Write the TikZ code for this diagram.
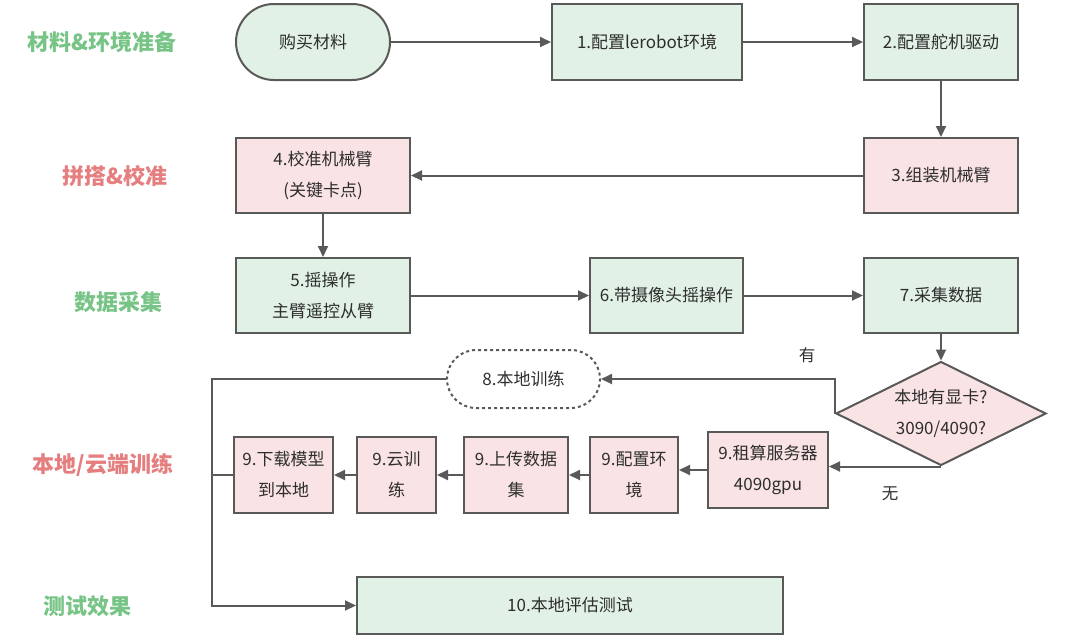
\documentclass[tikz,border=0pt]{standalone}
\usepackage{fontspec}
\newfontfamily\cjk{Noto Sans CJK SC}
\usetikzlibrary{shapes.geometric,arrows.meta}
\definecolor{lgreen}{HTML}{E1F1E5}
\definecolor{lpink}{HTML}{F9E3E4}
\definecolor{edgec}{HTML}{595959}
\definecolor{tgreen}{HTML}{77C486}
\definecolor{tred}{HTML}{E57E7E}
\definecolor{txt}{HTML}{2E2E2E}
\begin{document}
\begin{tikzpicture}[x=1pt,y=-1pt,
  box/.style={draw=edgec,line width=2pt,inner sep=0pt,align=center,text=txt,
    font=\cjk\fontsize{17}{31}\selectfont},
  gbox/.style={box,fill=lgreen},
  pbox/.style={box,fill=lpink},
  lane/.style={font=\cjk\bfseries\fontsize{22}{24}\selectfont},
  lbl/.style={font=\cjk\fontsize{16.5}{18}\selectfont,text=txt},
  conn/.style={draw=edgec,line width=2pt,-{Triangle[length=11pt,width=10pt]}},
  plain/.style={draw=edgec,line width=2pt},
]
\useasboundingbox (0,0) rectangle (1074,643);

% lane labels
\node[lane,text=tgreen] (l1) at (102,42) {材料\&环境准备};
\node[lane,text=tred]   (l2) at (115,176) {拼搭\&校准};
\node[lane,text=tgreen] (l3) at (118,302) {数据采集};
\node[lane,text=tred]   (l4) at (103,465) {本地/云端训练};
\node[lane,text=tgreen] (l5) at (87,606) {测试效果};

% row 1
\node[gbox,rounded corners=38pt,minimum width=154pt,minimum height=76pt] (s) at (313,42) {购买材料};
\node[gbox,minimum width=190pt,minimum height=76pt] (b1) at (647,42) {1.配置lerobot环境};
\node[gbox,minimum width=154pt,minimum height=76pt] (b2) at (941,42) {2.配置舵机驱动};

% row 2
\node[pbox,minimum width=154pt,minimum height=75pt] (b3) at (941,175.5) {3.组装机械臂};
\node[pbox,minimum width=174pt,minimum height=75pt] (b4) at (323,175.5) {4.校准机械臂\\(关键卡点)};

% row 3
\node[gbox,minimum width=174pt,minimum height=75pt] (b5) at (323,295.5) {5.摇操作\\主臂遥控从臂};
\node[gbox,minimum width=153pt,minimum height=75pt] (b6) at (666.5,295.5) {6.带摄像头摇操作};
\node[gbox,minimum width=154pt,minimum height=75pt] (b7) at (941,295.5) {7.采集数据};

% decision and local training
\node[box,fill=white,dashed,rounded corners=29pt,minimum width=153pt,minimum height=58pt] (b8) at (523.5,379) {8.本地训练};
\node[pbox,diamond,shape aspect=2,minimum width=210pt,minimum height=104pt] (d) at (941,413.5) {本地有显卡?\\3090/4090?};

% row 4
\node[pbox,minimum width=120pt,minimum height=76pt] (r1) at (768,470) {9.租算服务器\\4090gpu};
\node[pbox,minimum width=88pt,minimum height=76pt] (r2) at (634,475) {9.配置环\\境};
\node[pbox,minimum width=104pt,minimum height=76pt] (r3) at (516,475) {9.上传数据\\集};
\node[pbox,minimum width=79pt,minimum height=76pt] (r4) at (396.5,475) {9.云训\\练};
\node[pbox,minimum width=99pt,minimum height=76pt] (r5) at (283.5,475) {9.下载模型\\到本地};

% row 5
\node[gbox,minimum width=426pt,minimum height=57pt] (b10) at (570,605.5) {10.本地评估测试};

% edge labels
\node[lbl] (yes) at (807,355) {有};
\node[lbl] (no) at (890,494) {无};

\coordinate (lx) at (212,379);

% connectors
\draw[conn] (s.east) -- (b1.west);
\draw[conn] (b1.east) -- (b2.west);
\draw[conn] (b2.south) -- (b3.north);
\draw[conn] (b3.west) -- (b4.east);
\draw[conn] (b4.south) -- (b5.north);
\draw[conn] (b5.east) -- (b6.west);
\draw[conn] (b6.east) -- (b7.west);
\draw[conn] (b7.south) -- (d.north);
\draw[conn] (d.west) |- (b8.east);
\draw[conn] (d.south) -- (d.south -| r1.east);
\draw[conn] (r1.west) -- (r1.west -| r2.east);
\draw[conn] (r2.west) -- (r3.east);
\draw[conn] (r3.west) -- (r4.east);
\draw[conn] (r4.west) -- (r5.east);
\draw[plain] (r5.west) -- (r5.west -| lx);
\draw[conn] (b8.west) -- (lx) |- (b10.west);
\end{tikzpicture}
\end{document}
